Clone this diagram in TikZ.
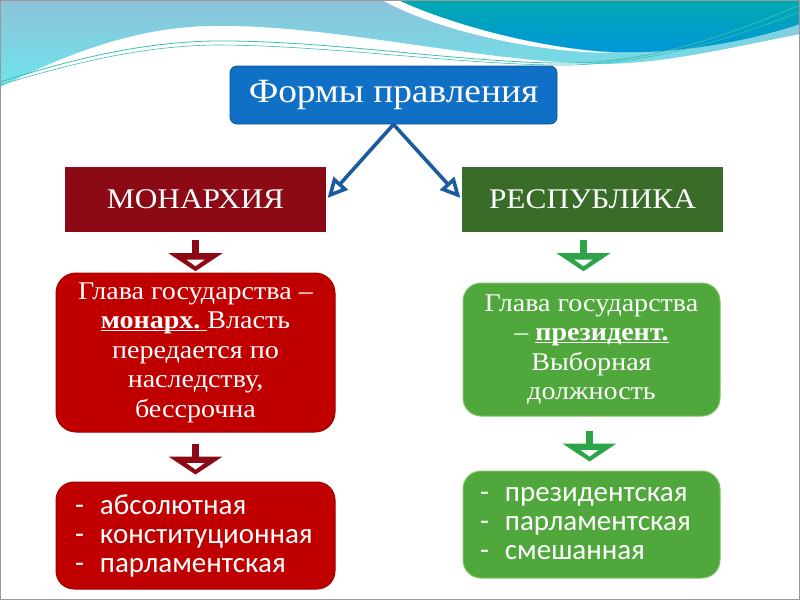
\documentclass[tikz,border=0pt]{standalone}
\usepackage{fontspec}
\setmainfont[FakeStretch=1.1]{Liberation Serif}
\newfontfamily\listfont{Carlito}
\usetikzlibrary{arrows.meta,calc}
\definecolor{titleblue}{HTML}{1070C6}
\definecolor{titleedge}{HTML}{0B5394}
\definecolor{arrowblue}{HTML}{1A5C9E}
\definecolor{monred}{HTML}{8B0A16}
\definecolor{repgreen}{HTML}{396C28}
\definecolor{boxred}{HTML}{C00000}
\definecolor{boxrededge}{HTML}{A00000}
\definecolor{boxgreen}{HTML}{50A73C}
\definecolor{boxgreenedge}{HTML}{7EC56A}
\definecolor{arrgreen}{HTML}{2EA449}
\definecolor{lbtop}{HTML}{8CC3D9}
\definecolor{lbbot}{HTML}{6EE4EC}
\definecolor{tealtop}{HTML}{00A9B0}
\definecolor{tealbot}{HTML}{0096DA}
\definecolor{thinline}{HTML}{3CBFB0}
\tikzset{
  headbox/.style={rectangle, inner sep=0pt, text=white, font=\fontsize{28.5}{32}\selectfont},
  infobox/.style={rectangle, rounded corners=20pt, inner sep=0pt, text=white, line width=1pt, align=center, font=\fontsize{25.5}{29.5}\selectfont},
  listbox/.style={rectangle, rounded corners=18pt, inner sep=0pt, text=white, line width=1pt, align=left, font=\listfont\fontsize{29}{29}\selectfont},
  blueconn/.style={draw=arrowblue, line width=3.6pt, -{Triangle[length=20pt, width=19pt, fill=white]}, shorten >=2pt},
  pics/darr/.style={code={
    \fill[#1] (-3.5,0) rectangle (3.5,13.5);
    \fill[#1] (-27,13) -- (27,13) -- (0,31) -- cycle;
    \fill[white] (-9,19.5) -- (9,19.5) -- (0,26) -- cycle;
  }}
}
\newcommand\dsh{\makebox[25pt][l]{-}}
\newcommand\ulin[1]{\setbox0\hbox{#1}\rlap{\rule[-2.8pt]{\wd0}{1.3pt}}\box0}
\begin{document}
\begin{tikzpicture}[x=1pt,y=-1pt]
\useasboundingbox (0,0) rectangle (800,600);
\fill[white] (0,0) rectangle (800,600);
% background waves
\shade[top color=lbtop, bottom color=lbbot]
  (0,0) -- (800,0) -- (800,34) .. controls (720,50) and (660,64) .. (600,64)
  .. controls (480,62) and (330,24) .. (215,26)
  .. controls (130,26) and (55,60) .. (0,87) -- cycle;
\fill[white] (382,0) -- (402,0) .. controls (450,25) and (540,48) .. (614,53)
  .. controls (540,53) and (440,32) .. (382,0) -- cycle;
\shade[top color=tealtop, bottom color=tealbot]
  (398,0) -- (800,0) -- (800,24) .. controls (740,44) and (670,54) .. (615,52)
  .. controls (540,49) and (450,24) .. (398,0) -- cycle;
\draw[thinline, line width=0.8pt]
  (0,82) .. controls (70,60) and (140,42) .. (215,41)
  .. controls (330,40) and (470,64) .. (570,63)
  .. controls (660,62) and (740,30) .. (800,5);
\draw[thinline, line width=0.6pt]
  (0,85) .. controls (70,64) and (140,46) .. (215,45)
  .. controls (330,45) and (470,66) .. (570,65)
  .. controls (660,63) and (740,35) .. (800,12);
\draw[gray!80, line width=1pt] (0.5,0.5) rectangle (799.5,599.5);

% nodes
\node[headbox, fill=titleblue, draw=titleedge, line width=0.8pt, rounded corners=7pt,
  minimum width=327pt, minimum height=58pt, font=\fontsize{34}{38}\selectfont] (title) at (393.5,95) {Формы правления};
\node[headbox, fill=monred, minimum width=261pt, minimum height=65pt] (mon) at (195.5,199.5) {МОНАРХИЯ};
\node[headbox, fill=repgreen, minimum width=261pt, minimum height=65pt] (rep) at (592.5,199.5) {РЕСПУБЛИКА};
\node[infobox, fill=boxred, draw=boxrededge, minimum width=279pt, minimum height=159pt] (r2) at (195.5,352.5)
  {Глава государства –\\\ulin{\textbf{монарх.}\ }Власть\\передается по\\наследству,\\бессрочна};
\node[infobox, fill=boxgreen, draw=boxgreenedge, rounded corners=18pt, minimum width=257pt, minimum height=133pt] (g2) at (591.5,349.5)
  {Глава государства\\– \ulin{\textbf{президент.}}\\Выборная\\должность};
\node[listbox, fill=boxred, draw=boxrededge, minimum width=279pt, minimum height=107pt] (r3) at (195.5,535.5) {};
\node[listbox, fill=boxgreen, draw=boxgreenedge, minimum width=257pt, minimum height=107pt] (g3) at (591.5,524.5) {};
\node[listbox, anchor=west] (r3t) at ($(r3.west)+(19,0)$) {\dsh абсолютная\\\dsh конституционная\\\dsh парламентская};
\node[listbox, anchor=west] (g3t) at ($(g3.west)+(17,-1)$) {\dsh президентская\\\dsh парламентская\\\dsh смешанная};

% connectors
\draw[blueconn] (title.south) -- (mon.east);
\draw[blueconn] (title.south) -- (rep.west);
\path (mon.south) ++(0,8) pic {darr=monred};
\path (r2.south) ++(0,11) pic {darr=monred};
\path (rep.south) ++(-9,8) pic {darr=arrgreen};
\path (g2.south) ++(-2,14) pic {darr=arrgreen};
\end{tikzpicture}
\end{document}
